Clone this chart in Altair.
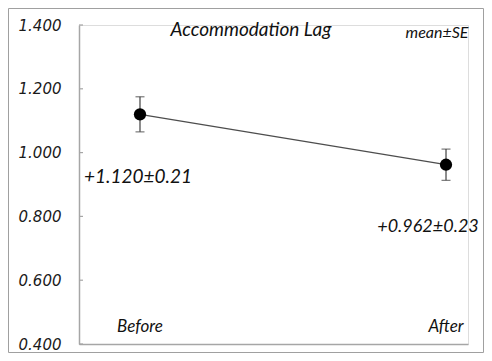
import altair as alt
import pandas as pd

conditions = ["Before", "After"]
means = [1.120, 0.962]
se = [0.055, 0.049]
value_labels = ["+1.120\u00b10.21", "+0.962\u00b10.23"]
y_ticks = [0.4, 0.6, 0.8, 1.0, 1.2, 1.4]
title_text = "Accommodation Lag"
note_text = "mean\u00b1SE"

df = pd.DataFrame({
    "cond": conditions,
    "mean": means,
    "lo": [m - s for m, s in zip(means, se)],
    "hi": [m + s for m, s in zip(means, se)],
    "label": value_labels,
})
ticks_df = pd.DataFrame({"v": y_ticks})
one = pd.DataFrame({"a": [0]})

W, H = 389, 319
PL, PT, PR, PB = 71, 17, 16, 9

xscale = alt.Scale(type="point", domain=conditions, padding=0.1356, align=0.735)
xs = alt.X("cond:N", sort=conditions, scale=xscale,
           axis=alt.Axis(title=None, labels=False, ticks=False, grid=False,
                         domainColor="#a6a6a6", domainWidth=1.5))
ys = alt.Y("mean:Q", scale=alt.Scale(domain=[0.4, 1.4], nice=False, zero=False),
           axis=alt.Axis(title=None, values=y_ticks, format=".3f", grid=False,
                         ticks=False, tickSize=0, labelPadding=18,
                         labelFont="DejaVu Sans", labelFontStyle="italic",
                         labelFontSize=15, labelColor="#1a1a1a",
                         domainColor="#a6a6a6", domainWidth=1.5))
xc = alt.X("cond:N", sort=conditions, scale=xscale)

base = alt.Chart(df)

line = base.mark_line(color="#4d4d4d", strokeWidth=1.3).encode(x=xs, y=ys)
err = base.mark_rule(color="#404040", strokeWidth=1.2).encode(x=xc, y="lo:Q", y2="hi:Q")
cap_hi = base.mark_tick(color="#404040", thickness=1.2, size=9, orient="horizontal").encode(
    x=xc, y="hi:Q")
cap_lo = base.mark_tick(color="#404040", thickness=1.2, size=9, orient="horizontal").encode(
    x=xc, y="lo:Q")
pts = base.mark_point(filled=True, color="#000000", size=150, opacity=1).encode(
    x=xc, y="mean:Q")

txt_style = dict(font="Lato", fontStyle="italic", color="#111111")
lab_before = base.transform_filter(alt.datum.cond == "Before").mark_text(
    fontSize=19, align="center", baseline="alphabetic", dx=-2, dy=69, **txt_style
).encode(x=xc, y="mean:Q", text="label:N")
lab_after = base.transform_filter(alt.datum.cond == "After").mark_text(
    fontSize=18, align="center", baseline="alphabetic", dx=-18, dy=67, **txt_style
).encode(x=xc, y="mean:Q", text="label:N")

cat_labels = base.mark_text(fontSize=17, align="center", baseline="alphabetic", **txt_style).encode(
    x=xc, y=alt.value(307), text="cond:N")

title = alt.Chart(one).mark_text(fontSize=19, align="center", baseline="alphabetic",
                                 text=title_text, **txt_style).encode(
    x=alt.value(172), y=alt.value(11))
note = alt.Chart(one).mark_text(fontSize=16, align="center", baseline="alphabetic",
                                text=note_text, **txt_style).encode(
    x=alt.value(358), y=alt.value(13))

tick_rules = alt.Chart(ticks_df).mark_rule(color="#a6a6a6", strokeWidth=1.2).encode(
    x=alt.value(0), x2=alt.value(4), y=alt.Y("v:Q"))

frame = alt.Chart(one).mark_rect(fillOpacity=0, stroke="#a0a0a0", strokeWidth=1).encode(
    x=alt.value(-PL + 0.5), x2=alt.value(W + PR - 0.5),
    y=alt.value(-PT + 0.5), y2=alt.value(H + PB - 0.5))

chart = alt.layer(
    frame, tick_rules, line, err, cap_hi, cap_lo, pts,
    lab_before, lab_after, cat_labels, title, note
).properties(
    width=W, height=H,
    autosize=alt.AutoSizeParams(type="none"),
    padding={"left": PL, "top": PT, "right": PR, "bottom": PB},
).configure_view(stroke=None).configure(background="white")

chart.save("out.html", embed_options={"renderer": "svg", "actions": False})
